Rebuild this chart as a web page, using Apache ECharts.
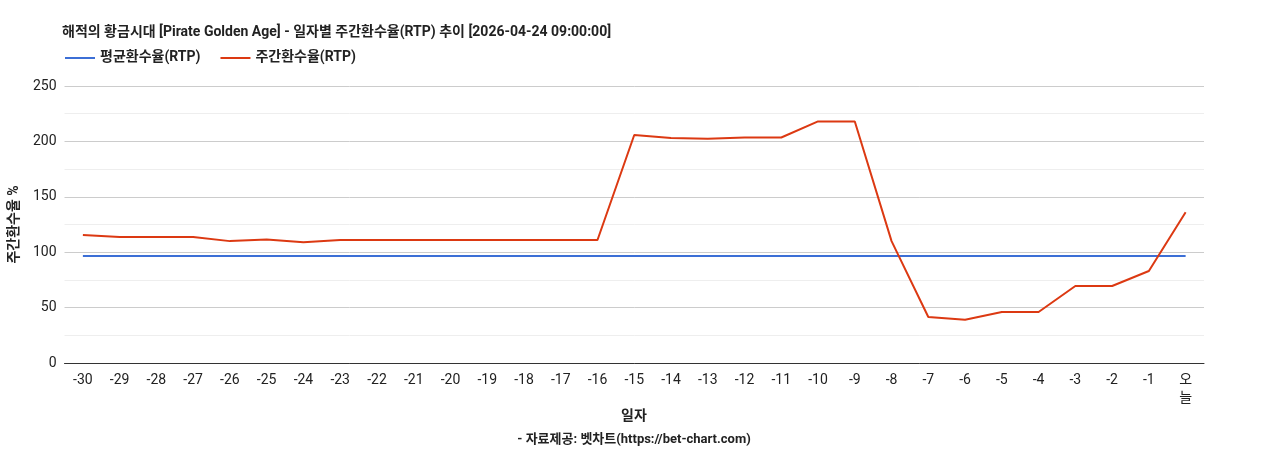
<!DOCTYPE html>
<html><head><meta charset="utf-8">
<script src="https://cdn.jsdelivr.net/npm/echarts@6/dist/echarts.min.js"></script>
<style>html,body{margin:0;padding:0;background:#fff}#c{width:1268px;height:450px}</style>
</head><body><div id="c"></div>
<script>
const categories = ['-30','-29','-28','-27','-26','-25','-24','-23','-22','-21','-20','-19','-18','-17','-16','-15','-14','-13','-12','-11','-10','-9','-8','-7','-6','-5','-4','-3','-2','-1','오\n늘'];
const weeklyRtp = [115.5,113.7,113.7,113.7,110,111.5,109,111,111,111,111,111,111,111,111,205.8,203,202.5,203.5,203.5,218,218,110,41.5,39,46,46,69.5,69.5,83,136];
const avgRtp = categories.map(()=>96.5);
const F = 'Roboto, "Noto Sans CJK KR", sans-serif';
const chart = echarts.init(document.getElementById('c'));
chart.setOption({
  animation:false,
  textStyle:{fontFamily:F},
  title:[{text:'해적의 황금시대 [Pirate Golden Age] - 일자별 주간환수율(RTP) 추이 [2026-04-24 09:00:00]',left:57,top:21,textStyle:{fontSize:14,fontWeight:'bold',color:'#222',fontFamily:F}},
         {text:'일자',left:'center',top:405,textStyle:{fontSize:14,fontWeight:'bold',color:'#222',fontFamily:F}},
         {text:'- 자료제공: 벳차트(https://bet-chart.com)',left:'center',top:428,textStyle:{fontSize:13,fontWeight:'bold',color:'#222',fontFamily:F}}],
  legend:{left:60,top:46,itemWidth:30,itemHeight:2,itemGap:20,icon:'rect',textStyle:{fontSize:14,fontWeight:'bold',color:'#222',fontFamily:F},
    data:['평균환수율(RTP)','주간환수율(RTP)']},
  grid:{left:64,right:64,top:86,bottom:87},
  xAxis:{type:'category',data:categories,boundaryGap:true,
    axisLine:{lineStyle:{color:'#333'}},axisTick:{show:false},
    axisLabel:{color:'#222',fontSize:14,interval:0,margin:8,lineHeight:18}},
  yAxis:{type:'value',min:0,max:250,interval:50,name:'주간환수율 %',nameLocation:'middle',nameGap:36,
    nameTextStyle:{fontSize:14,fontWeight:'bold',color:'#222'},
    axisLabel:{color:'#222',fontSize:14},
    splitLine:{lineStyle:{color:'#ccc'}},
    minorTick:{show:false,splitNumber:2},minorSplitLine:{show:true,lineStyle:{color:'#eee'}}},
  series:[
    {name:'평균환수율(RTP)',type:'line',data:avgRtp,symbol:'none',lineStyle:{color:'#3c6fd6',width:2},itemStyle:{color:'#3c6fd6'}},
    {name:'주간환수율(RTP)',type:'line',data:weeklyRtp,symbol:'none',lineStyle:{color:'#dc3912',width:2},itemStyle:{color:'#dc3912'}}
  ]
});
</script></body></html>
